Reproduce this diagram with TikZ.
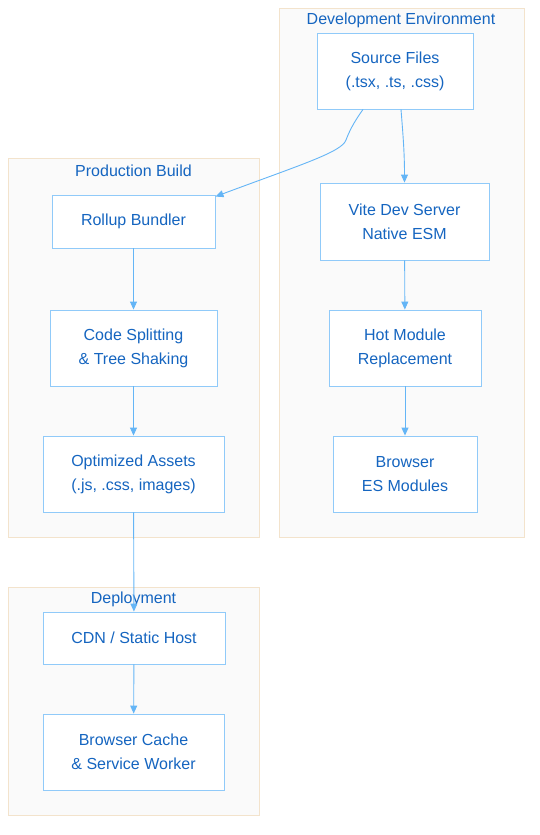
\documentclass[tikz,border=0pt]{standalone}
\usepackage{fontspec}
\setmainfont{Liberation Sans}
\usetikzlibrary{arrows.meta}
\definecolor{clfill}{HTML}{FAFAFA}
\definecolor{clborder}{HTML}{F3E3CC}
\definecolor{nborder}{HTML}{90CAF9}
\definecolor{ntext}{HTML}{1565C0}
\definecolor{edgec}{HTML}{64B5F6}
\tikzset{
  cluster/.style={draw=clborder, fill=clfill, line width=0.9pt},
  cllabel/.style={text=ntext, font=\fontsize{16}{19}\selectfont, inner sep=0pt},
  box/.style={draw=nborder, fill=white, line width=0.9pt, text=ntext,
    font=\fontsize{16}{24}\selectfont, align=center, inner sep=0pt},
  flow/.style={draw=edgec, line width=0.9pt, -{Triangle[length=8pt,width=7pt]}},
}
\begin{document}
\begin{tikzpicture}[x=1pt,y=-1pt]
\useasboundingbox (0,0) rectangle (540,835);
% clusters
\draw[cluster] (279,8) rectangle (524,537);
\draw[cluster] (8,158) rectangle (259,537);
\draw[cluster] (8,587) rectangle (259,815);
\node[cllabel] (ldev) at (401,20) {Development Environment};
\node[cllabel] (lprod) at (133.5,171) {Production Build};
\node[cllabel] (ldep) at (133.5,599) {Deployment};
% nodes
\node[box, minimum width=156pt, minimum height=76pt] (src) at (395,71) {Source Files\\(.tsx, .ts, .css)};
\node[box, minimum width=169pt, minimum height=77pt] (vite) at (404.5,221.5) {Vite Dev Server\\Native ESM};
\node[box, minimum width=152pt, minimum height=76pt] (hmr) at (405,348) {Hot Module\\Replacement};
\node[box, minimum width=144pt, minimum height=76pt] (brw) at (405,474) {Browser\\ES Modules};
\node[box, minimum width=163pt, minimum height=53pt] (rollup) at (133.5,221.5) {Rollup Bundler};
\node[box, minimum width=167pt, minimum height=76pt] (code) at (133.5,348) {Code Splitting\\\&~Tree Shaking};
\node[box, minimum width=181pt, minimum height=76pt] (opt) at (133.5,474) {Optimized Assets\\(.js, .css, images)};
\node[box, minimum width=182pt, minimum height=52pt] (cdn) at (134,638) {CDN / Static Host};
\node[box, minimum width=181pt, minimum height=76pt] (cache) at (133.5,752) {Browser Cache\\\&~Service Worker};
% edges
\draw[flow] ([xshift=6pt]src.south) .. controls +(2,25) and +(0,-30) .. (vite.north);
\draw[flow] ([xshift=-32pt]src.south) .. controls +(-10,14) and +(3,-8) .. (346,140)
   .. controls (342,152) and (300,165) .. ([yshift=-2pt]rollup.north east);
\draw[flow] (vite) -- (hmr);
\draw[flow] (hmr) -- (brw);
\draw[flow] (rollup) -- (code);
\draw[flow] (code) -- (opt);
\draw[flow] (opt) -- (cdn);
\draw[flow] (cdn) -- (cache);
\end{tikzpicture}
\end{document}
